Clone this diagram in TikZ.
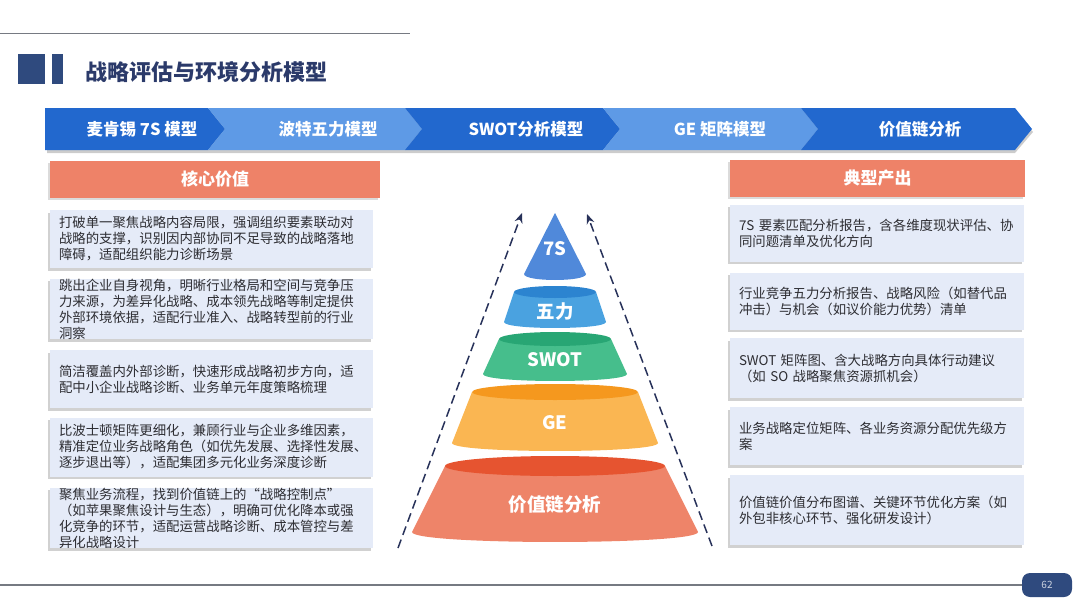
\documentclass[tikz,border=0pt]{standalone}
\usepackage{fontspec}
\setmainfont{Noto Sans CJK SC}
\usepackage{xcolor}
\usepackage{tikz}
\usetikzlibrary{arrows.meta,positioning,shadows}
\definecolor{navy}{RGB}{47,74,126}
\definecolor{titlenavy}{RGB}{43,58,106}
\definecolor{banddark}{RGB}{34,104,206}
\definecolor{bandlight}{RGB}{94,154,230}
\definecolor{headorange}{RGB}{238,130,104}
\definecolor{cardfill}{RGB}{229,235,248}
\definecolor{rulegray}{RGB}{118,122,130}
\definecolor{cardtext}{RGB}{45,45,50}
\definecolor{guidenavy}{RGB}{40,50,90}
\definecolor{lvlblue}{RGB}{80,137,218}
\definecolor{lvlsky}{RGB}{74,162,224}
\definecolor{rimsky}{RGB}{44,132,208}
\definecolor{lvlgreen}{RGB}{70,190,140}
\definecolor{rimgreen}{RGB}{40,166,116}
\definecolor{lvlamber}{RGB}{250,182,82}
\definecolor{rimamber}{RGB}{245,152,30}
\definecolor{lvlsalmon}{RGB}{238,132,105}
\definecolor{rimsalmon}{RGB}{230,84,48}

\begin{document}
\begin{tikzpicture}[x=1pt,y=-1pt,
    bandtext/.style={text=white,font=\fontsize{16.5}{16.5}\selectfont\bfseries},
    headbox/.style={fill=headorange,text=white,font=\fontsize{17}{17}\selectfont\bfseries,
      minimum height=37,inner sep=0,drop shadow={shadow xshift=-2pt,shadow yshift=-2pt,fill=black!40,opacity=.35}},
    card/.style={fill=cardfill,minimum height=#1,inner xsep=9,inner ysep=0,align=left,
      text=cardtext,font=\fontsize{13.4}{16}\selectfont,
      drop shadow={shadow xshift=-2.5pt,shadow yshift=-2.5pt,fill=black!45,opacity=.4}},
    lvltext/.style={text=white,font=\fontsize{18.5}{18.5}\selectfont\bfseries},
    guide/.style={guidenavy,line width=1.5,dash pattern=on 9pt off 5pt,-{Stealth[length=10pt,width=8pt]}}]
  \useasboundingbox (0,0) rectangle (1080,608);

  % header
  \draw[rulegray,line width=1] (0,33) -- (410,33);
  \fill[navy] (18,54) rectangle (45,84);
  \fill[navy] (52,54) rectangle (63,84);
  \node[anchor=west,inner sep=0,text=titlenavy,font=\fontsize{22}{22}\selectfont\bfseries] (title) at (85,72) {战略评估与环境分析模型};

  % chevron band
  \fill[black!20] (47,111) -- (1015,111) -- (1033,132) -- (1015,153) -- (47,153) -- cycle;
  \foreach \i/\xa/\xb/\xt/\col/\txt in {1/45/225/142/banddark/{麦肯锡 7S 模型},
      2/225/422/328/bandlight/{波特五力模型},3/422/620/526/banddark/{SWOT分析模型},
      4/620/818/720/bandlight/{GE 矩阵模型},5/818/1032/920/banddark/{价值链分析}}
  {
    \ifnum\i=1
      \fill[\col] (\xa,108) -- (\xb-17,108) -- (\xb,129) -- (\xb-17,150) -- (\xa,150) -- cycle;
    \else
      \fill[\col] (\xa-17,108) -- (\xb-17,108) -- (\xb,129) -- (\xb-17,150) -- (\xa-17,150) -- (\xa,129) -- cycle;
    \fi
    \node[bandtext] (band\i) at (\xt,129) {\txt};
  }

  % column heads
  \node[headbox,minimum width=330] (corehead) at (215,179) {核心价值};
  \node[headbox,minimum width=295] (outhead) at (877.5,178) {典型产出};

  % left cards
  \node[card=58,minimum width=323,text width=305] (core1) at (211.5,239)
    {打破单一聚焦战略内容局限，强调组织要素联动对\\战略的支撑，识别因内部协同不足导致的战略落地\\障碍，适配组织能力诊断场景};
  \node[card=58,minimum width=323,text width=305] (core2) at (211.5,309)
    {跳出企业自身视角，明晰行业格局和空间与竞争压\\力来源，为差异化战略、成本领先战略等制定提供\\外部环境依据，适配行业准入、战略转型前的行业\\洞察};
  \node[card=58,minimum width=323,text width=305] (core3) at (211.5,379)
    {简洁覆盖内外部诊断，快速形成战略初步方向，适\\配中小企业战略诊断、业务单元年度策略梳理};
  \node[card=59,minimum width=323,text width=305] (core4) at (211.5,447)
    {比波士顿矩阵更细化，兼顾行业与企业多维因素，\\精准定位业务战略角色（如优先发展、选择性发展、\\逐步退出等），适配集团多元化业务深度诊断};
  \node[card=60,minimum width=323,text width=305] (core5) at (211.5,518)
    {聚焦业务流程，找到价值链上的“战略控制点”\\（如苹果聚焦设计与生态），明确可优化降本或强\\化竞争的环节，适配运营战略诊断、成本管控与差\\异化战略设计};

  % right cards
  \node[card=57,minimum width=294,text width=276] (out1) at (877,233)
    {7S 要素匹配分析报告，含各维度现状评估、协\\同问题清单及优化方向};
  \node[card=57,minimum width=294,text width=276] (out2) at (877,301)
    {行业竞争五力分析报告、战略风险（如替代品\\冲击）与机会（如议价能力优势）清单};
  \node[card=60,minimum width=294,text width=276] (out3) at (877,368)
    {SWOT 矩阵图、含大战略方向具体行动建议\\（如 SO 战略聚焦资源抓机会）};
  \node[card=58,minimum width=294,text width=276] (out4) at (877,436)
    {业务战略定位矩阵、各业务资源分配优先级方\\案};
  \node[card=70,minimum width=294,text width=276] (out5) at (877,510)
    {价值链价值分布图谱、关键环节优化方案（如\\外包非核心环节、强化研发设计）};

  % pyramid
  \fill[lvlblue] (555,213) -- (586,274) .. controls (586,282) and (524,282) .. (524,274) -- cycle;
  \node[lvltext] (lvl0) at (555,249) {7S};
  \foreach \yt/\wt/\yb/\wb/\e/\ty/\body/\rim/\txt [count=\i] in {
      292/41/322/51/6/312/lvlsky/rimsky/五力,
      339/56/374/72/7/360/lvlgreen/rimgreen/SWOT,
      392/83/443/103/8/423/lvlamber/rimamber/GE,
      466/110/532/143/10/505/lvlsalmon/rimsalmon/价值链分析}
  {
    \fill[\body] (555-\wt,\yt) -- (555-\wb,\yb) .. controls (555-\wb,\yb+1.33*\e) and (555+\wb,\yb+1.33*\e) .. (555+\wb,\yb) -- (555+\wt,\yt) -- cycle;
    \fill[\rim] (555,\yt) ellipse [x radius=\wt,y radius=\e];
    \node[lvltext] (lvl\i) at (555,\ty) {\txt};
  }

  % dashed guides
  \coordinate (lguide0) at (398,548);
  \coordinate (lguide1) at (522,213);
  \coordinate (rguide0) at (712,546);
  \coordinate (rguide1) at (587,214);
  \draw[guide] (lguide0) -- (lguide1);
  \draw[guide] (rguide0) -- (rguide1);

  % footer
  \node[fill=navy,rounded corners=8pt,minimum width=50,minimum height=24,inner sep=0,
    text=white!75!navy,font=\fontsize{10}{10}\selectfont] (pageno) at (1047,585) {62};
  \draw[rulegray,line width=1.2] (0,585) -- (pageno.west);
\end{tikzpicture}
\end{document}
